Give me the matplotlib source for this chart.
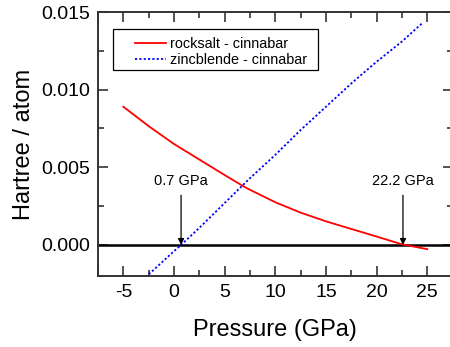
import matplotlib
matplotlib.use('Agg')
from matplotlib import pyplot as plt
from matplotlib.ticker import MultipleLocator, FormatStrFormatter
from matplotlib.patches import Rectangle

plt.rcParams['font.family'] = ['Liberation Sans', 'DejaVu Sans']
plt.rcParams['axes.unicode_minus'] = False

# rocksalt - cinnabar
p_rs = [-5, -2.5, 0, 2.5, 5, 6.8, 7.5, 10, 12.5, 15, 17.5, 20, 22.5, 25]
e_rs = [0.0089, 0.00765, 0.0065, 0.0055, 0.0045, 0.0038, 0.00355, 0.00275,
        0.00208, 0.00152, 0.00103, 0.00054, 0.00004, -0.00027]

# zincblende - cinnabar
p_zb = [-5, -2.5, 0, 0.7, 2.5, 5, 7.5, 10, 12.5, 15, 17.5, 20, 22.5, 24.5]
e_zb = [-0.0034, -0.0019, -0.0004, 0.0, 0.0011, 0.0027, 0.0043, 0.0058,
        0.0074, 0.0089, 0.0104, 0.0118, 0.0131, 0.01428]

# transition pressures marked by arrows
arrow_x = [0.7, 22.6]
arrow_text = ['0.7 GPa', '22.2 GPa']

fig = plt.figure(figsize=(4.5, 3.47), dpi=100)
ax = fig.add_axes([0.2178, 0.2046, 0.788, 0.7608])

ax.axhline(0, color='k', lw=1.8)
ax.plot(p_rs, e_rs, color='red', lw=1.3, label='rocksalt - cinnabar')
ax.plot(p_zb, e_zb, color='blue', lw=1.3, ls=(0, (1.2, 1.2)),
        label='zincblende - cinnabar')

for xa, txt in zip(arrow_x, arrow_text):
    ax.annotate('', xy=(xa, 0), xytext=(xa, 0.0032),
                arrowprops=dict(arrowstyle='-|>', color='k', lw=0.9,
                                mutation_scale=9, shrinkA=0, shrinkB=0))
    ax.text(xa, 0.0041, txt, ha='center', va='center', fontsize=10.5)

ax.set_xlim(-7.5, 27.5)
ax.set_ylim(-0.002, 0.015)
ax.xaxis.set_major_locator(MultipleLocator(5))
ax.xaxis.set_minor_locator(MultipleLocator(2.5))
ax.yaxis.set_major_locator(MultipleLocator(0.005))
ax.yaxis.set_minor_locator(MultipleLocator(0.0025))
ax.yaxis.set_major_formatter(FormatStrFormatter('%.3f'))
ax.tick_params(which='both', direction='in', top=True, right=True,
               width=1.2, color='#333333', labelsize=14)
ax.tick_params(which='major', length=7, pad=6)
ax.tick_params(which='minor', length=4)
for s in ax.spines.values():
    s.set_linewidth(1.4)
    s.set_color('#333333')

ax.set_xlabel('Pressure (GPa)', fontsize=17, labelpad=13)
ax.set_ylabel('Hartree / atom', fontsize=17, labelpad=4)

# legend box drawn separately (Origin-style padding)
ax.add_patch(Rectangle((0.0423, 0.780), 0.578, 0.155, transform=ax.transAxes,
                       fill=False, edgecolor='k', lw=0.9, zorder=4))
ax.legend(loc='upper left', bbox_to_anchor=(0.105, 0.907), fontsize=10.4,
          frameon=False, handlelength=2.1, handletextpad=0.3,
          borderpad=0, borderaxespad=0, labelspacing=0.2)

fig.savefig('out.png', dpi=100)
